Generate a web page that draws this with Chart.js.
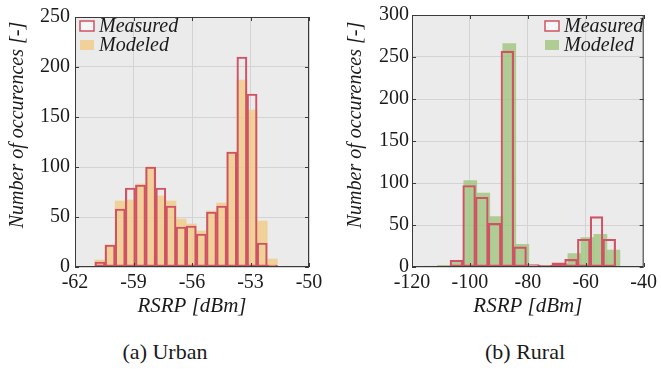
<!DOCTYPE html>
<html>
<head>
<meta charset="utf-8">
<script src="https://cdn.jsdelivr.net/npm/chart.js@4.4.0/dist/chart.umd.min.js"></script>
<style>
  body { margin: 0; background: #fff; width: 661px; height: 371px; position: relative; overflow: hidden; }
  canvas { position: absolute; top: 0; }
  #urban { left: 0; }
  #rural { left: 330px; }
  .cap { position: absolute; top: 339px; width: 200px; text-align: center; line-height: 26px;
         font: 22px "Liberation Serif", serif; color: #1a1a1a; }
</style>
</head>
<body>
<canvas id="urban" width="330" height="320"></canvas>
<canvas id="rural" width="331" height="320"></canvas>
<div class="cap" style="left:65px">(a) Urban</div>
<div class="cap" style="left:425px">(b) Rural</div>
<script>
// urban histogram, bin centres in dBm
const urbanBins = [-60.72, -60.20, -59.68, -59.16, -58.64, -58.12, -57.60, -57.08, -56.56,
                   -56.04, -55.52, -55.00, -54.48, -53.96, -53.44, -52.92, -52.40, -51.88];
const urbanMeasured = [5, 22, 58, 79, 82, 100, 79, 61, 40, 41, 33, 55, 61, 115, 210, 173, 24, 2];
const urbanModeled  = [7, 22, 66, 67, 83, 100, 71, 66, 48, 43, 36, 56, 64, 115, 187, 157, 46, 8];

// rural histogram, measured and modeled use their own bins
const ruralMeasuredBins = [-113.48, -109.08, -104.68, -100.28, -95.88, -91.48, -87.08, -82.68,
                           -78.28, -73.88, -69.48, -65.08, -60.68, -56.28, -51.88];
const ruralMeasured = [1, 1, 8, 97, 83, 52, 257, 24, 3, 2, 5, 9, 33, 60, 33];
const ruralModeledBins = [-108.87, -104.38, -99.88, -95.39, -90.89, -86.40, -81.90,
                          -77.41, -72.91, -68.42, -63.92, -59.43, -54.93, -50.44];
const ruralModeled = [2, 8, 103, 88, 60, 266, 27, 1, 2, 4, 16, 35, 39, 20];

const urbanXTicks = [-62, -59, -56, -53, -50];
const urbanYTicks = [0, 50, 100, 150, 200, 250];
const ruralXTicks = [-120, -100, -80, -60, -40];
const ruralYTicks = [0, 50, 100, 150, 200, 250, 300];

const SERIF = '"Liberation Serif", serif';
const RED = '#cf5364';
const INK = '#1a1a1a';

const toPoints = (xs, ys) => xs.map((x, i) => ({ x: x, y: ys[i] }));

const frame = {
  id: 'frame',
  beforeDraw(chart) {
    const { ctx, chartArea: a } = chart;
    ctx.save();
    ctx.fillStyle = '#ebebeb';
    ctx.fillRect(a.left, a.top, a.width, a.height);
    ctx.restore();
  },
  afterDraw(chart, args, o) {
    const { ctx, chartArea: a } = chart;
    const xs = chart.scales.x, ys = chart.scales.y;
    ctx.save();
    // box
    ctx.strokeStyle = '#3a3a3a';
    ctx.lineWidth = 1;
    ctx.strokeRect(a.left + 0.5, a.top + 0.5, a.width - 1, a.height - 1);
    // inward ticks
    ctx.beginPath();
    xs.ticks.forEach((t, i) => {
      const px = Math.round(xs.getPixelForTick(i)) + 0.5;
      ctx.moveTo(px, a.bottom); ctx.lineTo(px, a.bottom - 4);
      ctx.moveTo(px, a.top); ctx.lineTo(px, a.top + 4);
    });
    ys.ticks.forEach((t, i) => {
      const py = Math.round(ys.getPixelForTick(i)) + 0.5;
      ctx.moveTo(a.left, py); ctx.lineTo(a.left + 4, py);
      ctx.moveTo(a.right, py); ctx.lineTo(a.right - 4, py);
    });
    ctx.stroke();

    // y title
    ctx.fillStyle = INK;
    ctx.font = 'italic 20px ' + SERIF;
    ctx.textAlign = 'center';
    ctx.textBaseline = 'middle';
    ctx.translate(o.titleX, o.titleY);
    ctx.rotate(-Math.PI / 2);
    ctx.fillText('Number of occurences [-]', 0, 0);
    ctx.setTransform(1, 0, 0, 1, 0, 0);

    // legend
    ctx.font = 'italic 20px ' + SERIF;
    ctx.textAlign = 'left';
    chart.data.datasets.forEach((ds, i) => {
      const y = o.legendY + i * 19;
      if (ds.borderWidth) {
        ctx.fillStyle = '#f6f6f6';
        ctx.fillRect(o.legendX, y - 5, 14, 10);
        ctx.strokeStyle = ds.borderColor;
        ctx.lineWidth = 1.5;
        ctx.strokeRect(o.legendX, y - 5, 14, 10);
      } else {
        ctx.fillStyle = ds.backgroundColor;
        ctx.fillRect(o.legendX, y - 5, 14, 10);
      }
      ctx.fillStyle = INK;
      ctx.fillText(ds.label, o.legendX + 19, y + 1);
    });
    ctx.restore();
  }
};

function makeChart(id, cfg) {
  const sameRange = {
    type: 'linear', min: cfg.xTicks[0], max: cfg.xTicks[cfg.xTicks.length - 1],
    offset: false, grid: { offset: false }
  };
  return new Chart(document.getElementById(id).getContext('2d'), {
    type: 'bar',
    data: {
      datasets: [{
        label: 'Measured',
        data: toPoints(cfg.measuredBins, cfg.measured),
        backgroundColor: 'rgba(0,0,0,0)',
        borderColor: RED,
        borderWidth: 1.5,
        borderSkipped: false,
        grouped: false,
        order: 0,
        xAxisID: 'x'
      }, {
        label: 'Modeled',
        data: toPoints(cfg.modeledBins, cfg.modeled),
        backgroundColor: cfg.fill,
        borderWidth: 0,
        grouped: false,
        order: 1,
        xAxisID: cfg.modeledAxis
      }]
    },
    options: {
      responsive: false,
      animation: false,
      devicePixelRatio: 1,
      layout: { padding: { top: 13, right: cfg.padRight, left: 0, bottom: 0 } },
      datasets: { bar: { categoryPercentage: 1, barPercentage: 1 } },
      scales: {
        x: Object.assign({}, sameRange, {
          afterBuildTicks: s => { s.ticks = cfg.xTicks.map(v => ({ value: v })); },
          afterFit: s => { s.height = 53; },
          grid: { offset: false, color: '#d3d3d3', drawTicks: false },
          border: { display: false },
          ticks: { color: INK, padding: 4, font: { family: SERIF, size: 20 } },
          title: { display: true, text: 'RSRP [dBm]', color: INK,
                   font: { family: SERIF, size: 21, style: 'italic' }, padding: { top: 0, bottom: 1 } }
        }),
        x2: Object.assign({}, sameRange, { display: false }),
        y: {
          min: 0, max: cfg.yTicks[cfg.yTicks.length - 1],
          afterBuildTicks: s => { s.ticks = cfg.yTicks.map(v => ({ value: v })); },
          afterFit: s => { s.width = cfg.yWidth; },
          grid: { color: '#d3d3d3', drawTicks: false },
          border: { display: false },
          ticks: { color: INK, padding: cfg.yPad, font: { family: SERIF, size: 20 } }
        }
      },
      plugins: {
        legend: { display: false },
        tooltip: { enabled: false },
        frame: { titleX: cfg.titleX, titleY: 125, legendX: cfg.legendX, legendY: 26 }
      }
    },
    plugins: [frame]
  });
}

function drawAll() {
  makeChart('urban', {
    measuredBins: urbanBins, measured: urbanMeasured,
    modeledBins: urbanBins, modeled: urbanModeled, modeledAxis: 'x',
    fill: 'rgba(240, 203, 133, 0.8)',
    xTicks: urbanXTicks, yTicks: urbanYTicks,
    padRight: 21, yWidth: 75, yPad: 5, titleX: 18, legendX: 80
  });

  makeChart('rural', {
    measuredBins: ruralMeasuredBins, measured: ruralMeasured,
    modeledBins: ruralModeledBins, modeled: ruralModeled, modeledAxis: 'x2',
    fill: 'rgba(160, 196, 128, 0.82)',
    xTicks: ruralXTicks, yTicks: ruralYTicks,
    padRight: 14, yWidth: 82, yPad: 3, titleX: 26, legendX: 215
  });
}

Promise.all([
  document.fonts.load('20px "Liberation Serif"'),
  document.fonts.load('italic 20px "Liberation Serif"')
]).then(drawAll, drawAll);
</script>
</body>
</html>
